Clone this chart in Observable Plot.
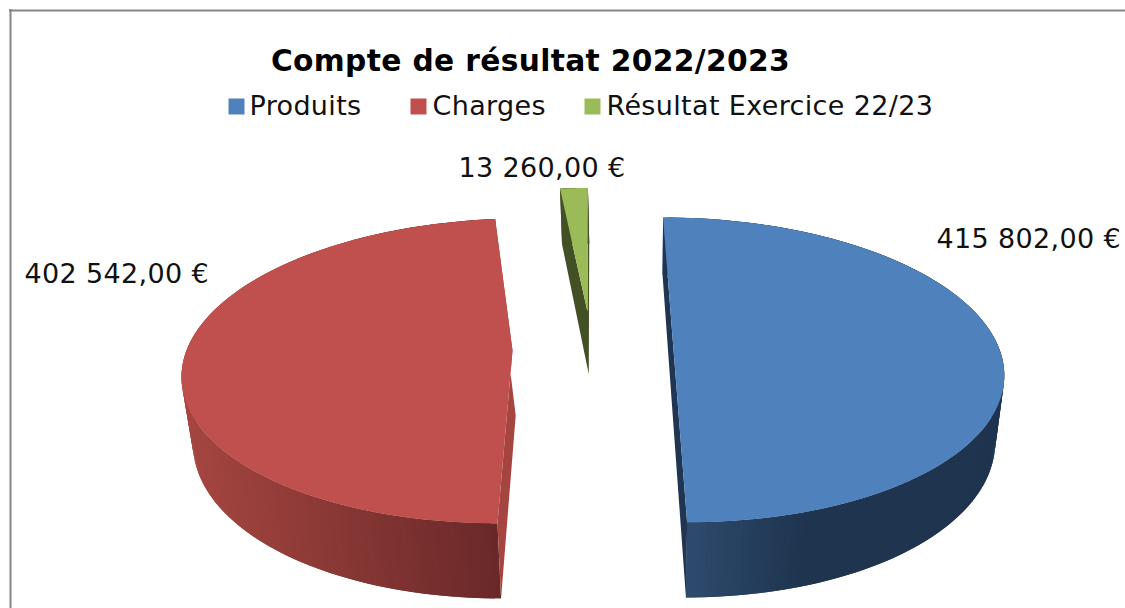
<!DOCTYPE html>
<html><head><meta charset="utf-8">
<script src="https://cdn.jsdelivr.net/npm/d3@7"></script>
<script src="https://cdn.jsdelivr.net/npm/@observablehq/plot@0.6"></script>
<style>html,body{margin:0;padding:0;background:#fff}svg{display:block}</style>
</head><body><div id="chart"></div>
<script>
const titleText = "Compte de résultat 2022/2023";
const categories = ["Produits", "Charges", "Résultat Exercice 22/23"];
const values = [415802, 402542, 13260];

const topColors = ["#4f81bd", "#c0504d", "#9bbb59"];
const innerColors = ["#1f3552", "#a64440", "#434f25"];
const wallLeft = ["#2e4b6f", "#a64641", "#434f25"];
const wallRight = ["#1f344e", "#6a2929", "#434f25"];

const W = 1125, H = 608;
// perspective of the disc
const R = 326, A = 149.7, B = 0.134, depth = 65, shrink = 0.975, shrinkX = 640;
const explode = [
  {X: 88, V: 0, x0: 585, y0: 349},
  {X: -97, V: 0, x0: 609, y0: 350},
  {X: -4.2, V: 88, x0: 591, y0: 350}
];
const wallSpan = [[687, 810], [181, 498], [560, 590]];

const locale = d3.formatLocale({decimal: ",", thousands: " ", grouping: [3], currency: ["", " €"]});
const fmt = locale.format(",.2f");

function project(i, X, V, low) {
  const w = 1 + B * V / R, e = explode[i];
  const px = e.x0 + X / w;
  return {
    px: low ? shrinkX + (px - shrinkX) * shrink : px,
    py: e.y0 - A * (V / R) / w + (low ? depth / w : 0)
  };
}
const rim = (i, a, low) => project(i, explode[i].X + R * Math.sin(a), explode[i].V + R * Math.cos(a), low);
const apex = (i, low) => project(i, explode[i].X, explode[i].V, low);

const arcs = d3.pie().sort(null)(values);
const wallRows = [], innerRows = [], faceRows = [];
arcs.forEach((arc, i) => {
  const n = Math.max(8, Math.round((arc.endAngle - arc.startAngle) * 60));
  const angles = d3.range(n + 1).map(k => arc.startAngle + (arc.endAngle - arc.startAngle) * k / n);
  // outer wall strips, each one overlapped by the next so no seam shows
  const shade = d3.interpolateRgb(wallLeft[i], wallRight[i]);
  for (let k = 0; k < n; k++) {
    const next = angles[Math.min(n, k + 2)];
    const p = [rim(i, angles[k], false), rim(i, next, false), rim(i, next, true), rim(i, angles[k], true)];
    const t = (rim(i, angles[k], false).px - wallSpan[i][0]) / (wallSpan[i][1] - wallSpan[i][0]);
    const c = shade(Math.max(0, Math.min(1, t)));
    p.forEach(d => wallRows.push({...d, id: `w${i}-${k}`, c}));
  }
  // inner cut faces
  [rim(i, arc.startAngle, false), apex(i, false), rim(i, arc.endAngle, false),
   rim(i, arc.endAngle, true), apex(i, true), rim(i, arc.startAngle, true)]
    .forEach(d => innerRows.push({...d, id: `i${i}`, c: innerColors[i]}));
  // top face
  [apex(i, false), ...angles.map(a => rim(i, a, false))]
    .forEach(d => faceRows.push({...d, id: `f${i}`, c: topColors[i]}));
});

const polygons = rows => Plot.line(rows, {x: "px", y: "py", z: "id", fill: "c", stroke: "none", curve: "linear"});

const font = "DejaVu Sans";
const legendX = [228, 410, 584], legendTextX = [249, 432, 606], legendY = 106;
const labelX = [936, 24, 458], labelY = [239, 274, 168];
const legendRows = categories.map((name, i) => ({name, x: legendX[i] + 8, tx: legendTextX[i], c: topColors[i]}));
const labelRows = values.map((v, i) => ({t: fmt(v) + " €", x: labelX[i], y: labelY[i]}));

const chart = Plot.plot({
  width: W, height: H, margin: 0,
  x: {domain: [0, W], range: [0, W], axis: null},
  y: {domain: [0, H], range: [0, H], axis: null},
  color: {type: "identity"},
  style: {background: "#fff", letterSpacing: "0.35px"},
  marks: [
    Plot.ruleY([10], {x1: 9, x2: W, stroke: "#868686", strokeWidth: 2}),
    Plot.ruleX([10], {y1: 9, y2: H, stroke: "#868686", strokeWidth: 2}),
    polygons(wallRows),
    polygons(innerRows),
    polygons(faceRows),
    Plot.text([titleText], {x: 530, y: 61, text: d => d, fontFamily: font, fontWeight: "bold", fontSize: 29.7, fill: "#000"}),
    Plot.dot(legendRows, {x: "x", y: legendY, r: 9.03, symbol: "square", fill: "c", stroke: "none"}),
    Plot.text(legendRows, {x: "tx", y: legendY, text: "name", textAnchor: "start", fontFamily: font, fontSize: 27, fill: "#111"}),
    Plot.text(labelRows, {x: "x", y: "y", text: "t", textAnchor: "start", fontFamily: font, fontSize: 27, fill: "#111"})
  ]
});
document.getElementById("chart").append(chart);
</script></body></html>
